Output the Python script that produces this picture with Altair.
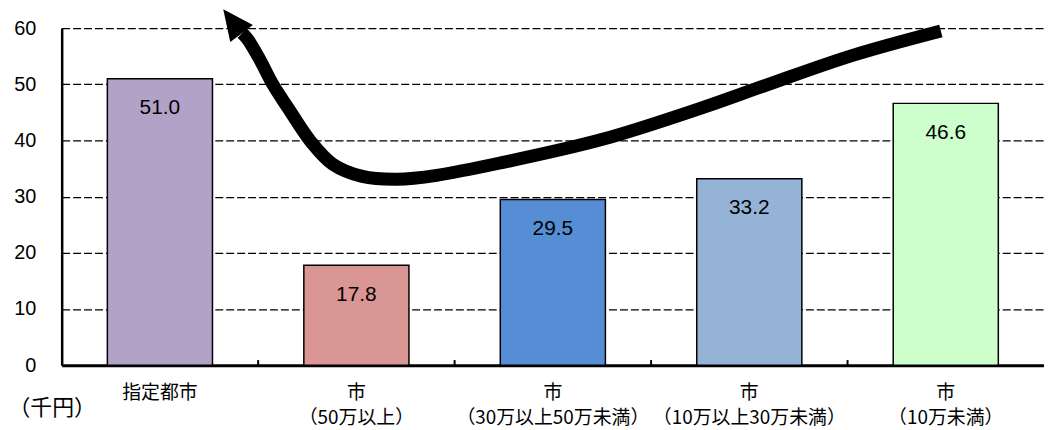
import altair as alt
import pandas as pd

categories = ["指定都市", "市\n（50万以上）", "市\n（30万以上50万未満）", "市\n（10万以上30万未満）", "市\n（10万未満）"]
values = [51.0, 17.8, 29.5, 33.2, 46.6]
colors = ["#B3A2C7", "#D99694", "#558ED5", "#95B3D7", "#CCFFCC"]
boundaries = categories[1:]

# decorative trend arrow, in category units (x) and data units (y)
curve_x = [4.475, 4.03, 3.59, 3.258, 2.753, 2.247, 1.909, 1.707, 1.530, 1.379, 1.268, 1.152, 1.076, 1.010, 0.949, 0.919]
curve_y = [59.5, 55.2, 49.9, 45.8, 40.2, 36.1, 33.8, 33.1, 33.6, 35.8, 39.8, 45.8, 49.9, 54.3, 57.9, 59.1]
head_x = [0.869]
head_y = [61.2]

bars_df = pd.DataFrame({"cat": categories, "value": values})
ticks_df = pd.DataFrame({"cat": boundaries})
curve_df = pd.DataFrame({"x": curve_x, "y": curve_y})
head_df = pd.DataFrame({"x": head_x, "y": head_y})

xband = alt.Scale(domain=categories, paddingInner=0, paddingOuter=0)
yscale = alt.Scale(domain=[0, 60], nice=False, zero=True)
xlin = alt.Scale(domain=[0, 5], nice=False, zero=False)

yaxis = alt.Axis(values=[0, 10, 20, 30, 40, 50, 60], ticks=False, tickSize=0,
                 domainColor="black", domainWidth=2.5,
                 grid=True, gridColor="black", gridDash=[8, 3], gridWidth=1.3,
                 labelFont="Liberation Sans", labelFontSize=20, labelColor="black",
                 labelPadding=26,
                 title="（千円）", titleAngle=0, titleAlign="left",
                 titleBaseline="middle", titleX=-54, titleY=382,
                 titleFont="Noto Sans CJK JP", titleFontSize=22,
                 titleFontWeight="normal", titleColor="black")

bars = alt.Chart(bars_df).mark_bar(
    width=alt.RelativeBandSize(0.535), stroke="black", strokeWidth=1.5
).encode(
    x=alt.X("cat:N", scale=xband, sort=categories, title=None,
            axis=alt.Axis(labelExpr="split(datum.label, '\\n')", labelAngle=0,
                          ticks=False, domainColor="black", domainWidth=3,
                          labelFont="Noto Sans CJK JP", labelFontSize=19,
                          labelLimit=400, labelOverlap=False,
                          labelColor="black", labelLineHeight=25, labelPadding=19)),
    y=alt.Y("value:Q", scale=yscale, axis=yaxis),
    color=alt.Color("cat:N", scale=alt.Scale(domain=categories, range=colors), legend=None),
)

labels = alt.Chart(bars_df).mark_text(
    baseline="middle", dy=30, font="Liberation Sans", fontSize=21, color="black"
).encode(
    x=alt.X("cat:N", scale=xband, sort=categories, axis=None),
    y=alt.Y("value:Q", scale=yscale, axis=yaxis),
    text=alt.Text("value:Q", format=".1f"),
)

ticks = alt.Chart(ticks_df).mark_rule(color="black", strokeWidth=2).encode(
    x=alt.X("cat:N", scale=xband, sort=categories, bandPosition=0, axis=None),
    y=alt.datum(0, scale=yscale, axis=yaxis),
    y2=alt.datum(0.9),
)

curve = alt.Chart(curve_df).mark_line(
    color="black", strokeWidth=13, interpolate="catmull-rom", strokeCap="butt"
).encode(
    x=alt.X("x:Q", scale=xlin, axis=None),
    y=alt.Y("y:Q", scale=yscale, axis=yaxis),
)

head = alt.Chart(head_df).mark_point(
    shape="M0,-1L0.93,1L-0.93,1Z", filled=True, color="black", opacity=1,
    size=940, angle=323
).encode(
    x=alt.X("x:Q", scale=xlin, axis=None),
    y=alt.Y("y:Q", scale=yscale, axis=yaxis),
)

chart = alt.layer(bars, labels, ticks, curve, head).resolve_scale(
    x="independent"
).properties(
    width=988, height=339,
    padding={"left": 54, "top": 19, "right": 0, "bottom": 63},
    autosize=alt.AutoSizeParams(type="none"),
).configure_view(stroke=None)

chart.save("out.html", embed_options={"renderer": "svg", "actions": False})
